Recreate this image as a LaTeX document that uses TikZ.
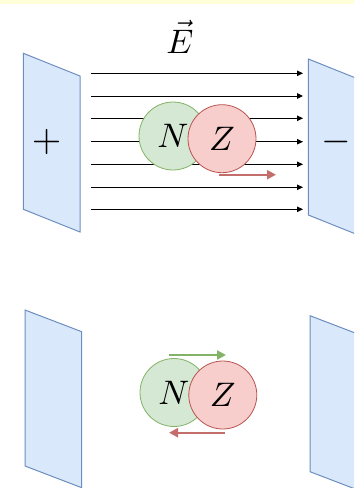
\documentclass[tikz,border=0pt]{standalone}
\usepackage{graphicx}
\usetikzlibrary{arrows.meta}
\definecolor{plateF}{HTML}{DAE8FC}
\definecolor{plateD}{HTML}{6C8EBF}
\definecolor{nF}{HTML}{D5E8D4}
\definecolor{nD}{HTML}{82B366}
\definecolor{zF}{HTML}{F8CECC}
\definecolor{zD}{HTML}{B85450}
\definecolor{topY}{HTML}{FFFFD8}
\newcommand{\bigsym}[2]{\scalebox{#1}{$#2$}}
\tikzset{
  plate/.style={fill=plateF, draw=plateD, line width=1pt, line join=miter},
  field/.style={draw=black, line width=0.9pt, -{Triangle[length=6pt,width=5.5pt]}},
  nucN/.style={circle, minimum size=68pt, inner sep=0pt, fill=nF, draw=nD, line width=0.8pt},
  nucZ/.style={circle, minimum size=68pt, inner sep=0pt, fill=zF, draw=zD, line width=0.8pt},
  moveZ/.style={draw=zD!85!white, line width=2.2pt, -{Triangle[length=9pt,width=9pt]}},
  moveN/.style={draw=nD, line width=2.2pt, -{Triangle[length=9pt,width=9pt]}},
}
\begin{document}
\begin{tikzpicture}[x=1pt,y=-1pt]
\useasboundingbox (0,0) rectangle (354,488);
\clip (0,0) rectangle (354,488);
\fill[topY] (0,0) rectangle (354,3.7);
% top plates
\draw[plate] (23.3,53.3) -- (80,76) -- (80,232) -- (23.3,209.3) -- cycle;
\draw[plate] (308.3,59) -- (365,81.7) -- (365,237.7) -- (308.3,215) -- cycle;
\node (plus) at (46.7,141.7) {\bigsym{3.8}{+}};
\node (minus) at (336,141.7) {\bigsym{3.8}{-}};
\node (E) at (180,37) {\bigsym{3.4}{\vec{E}}};
% field lines
\foreach \i/\yy in {1/73.3,2/96,3/118.3,4/141.7,5/164.3,6/187.3,7/209.3}{
  \coordinate (fs\i) at (91,\yy);
  \coordinate (fe\i) at (303,\yy);
  \draw[field] (fs\i) -- (fe\i);
}
\node[nucN] (N1) at (173,136) {\bigsym{3.4}{N}};
\node[nucZ] (Z1) at (222,138.7) {\bigsym{3.4}{Z}};
\coordinate (r1s) at (219.3,174.7);
\coordinate (r1e) at (276,174.7);
\draw[moveZ] (r1s) -- (r1e);
% bottom plates
\draw[plate] (25,310) -- (81.7,331.7) -- (81.7,487.7) -- (25,466) -- cycle;
\draw[plate] (310,315.7) -- (366.7,337.4) -- (366.7,493.4) -- (310,471.7) -- cycle;
\node[nucN] (N2) at (174,392.5) {\bigsym{3.4}{N}};
\node[nucZ] (Z2) at (222.8,395) {\bigsym{3.4}{Z}};
\coordinate (gs) at (169.3,355);
\coordinate (ge) at (226,355);
\draw[moveN] (gs) -- (ge);
\coordinate (r2s) at (225,432.7);
\coordinate (r2e) at (169,432.7);
\draw[moveZ] (r2s) -- (r2e);
\end{tikzpicture}
\end{document}
